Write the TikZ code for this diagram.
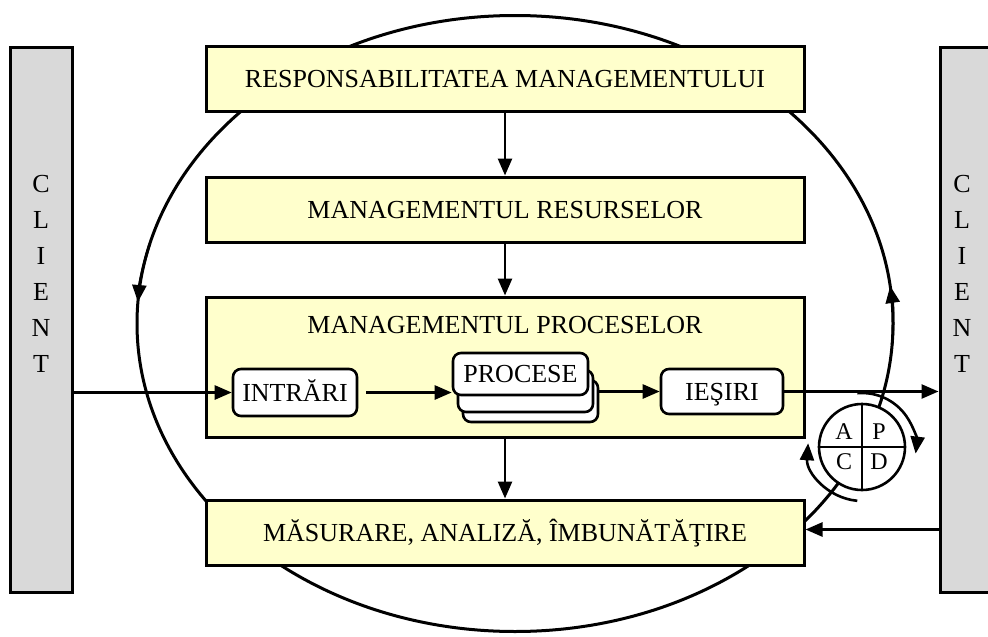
\documentclass[tikz,border=0pt]{standalone}
\usepackage{fontspec}
\setmainfont{Liberation Serif}
\usetikzlibrary{positioning,arrows.meta}
\definecolor{boxyellow}{RGB}{255,255,204}
\definecolor{clientgray}{RGB}{217,217,217}

\begin{document}
\begin{tikzpicture}[
    x=1pt, y=1pt,
    font=\fontsize{26pt}{36pt}\selectfont,
    box/.style={rectangle, draw=black, line width=3pt, fill=boxyellow, minimum width=598pt, minimum height=65pt, inner sep=0pt, text height=17pt, text depth=0pt, align=center},
    stage/.style={rectangle, rounded corners=8pt, draw=black, line width=2.6pt, fill=white, minimum width=135pt, minimum height=42pt, inner sep=0pt, text height=17pt, text depth=0pt},
    client/.style={rectangle, draw=black, line width=3pt, fill=clientgray, minimum width=62pt, minimum height=545pt},
    arrow/.style={-{Triangle[length=17pt,width=14pt]}, line width=2.6pt},
    ring/.style={line width=3pt},
    node distance=63pt
]
\clip (0,0) rectangle (988,-637);

% Improvement cycle round the system
\coordinate (ringc) at (515,-323.5);
\draw[ring] (ringc) ellipse [x radius=378, y radius=308];
\draw[ring, arrow] ([shift={(165:378 and 308)}]ringc) arc[start angle=165, end angle=176, x radius=378, y radius=308];
\draw[ring, arrow] ([shift={(-4:378 and 308)}]ringc) arc[start angle=-4, end angle=7, x radius=378, y radius=308];

% Clients on both sides
\node[client] (clientL) at (41,-319.5) {};
\node[client] (clientR) at (971,-319.5) {};
\node[align=center] (clientLtxt) at (41,-274) {C\\L\\I\\E\\N\\T};
\node[align=center] (clientRtxt) at (962,-274) {C\\L\\I\\E\\N\\T};

% Main blocks
\node[box] (resp) at (505,-78.5) {RESPONSABILITATEA MANAGEMENTULUI};
\node[box, below=of resp] (res) {MANAGEMENTUL RESURSELOR};
\node[box, minimum height=140pt, below=52pt of res] (proc) {};
\node (proctitle) at ([yshift=-30pt]proc.north) {MANAGEMENTUL PROCESELOR};
\node[box, below=60pt of proc] (mas) {MĂSURARE, ANALIZĂ, ÎMBUNĂTĂŢIRE};

% Inside the process block
\node[stage, minimum width=124pt, minimum height=47pt] (intrari) at (295,-392.5) {INTRĂRI};
\coordinate (stackc) at (520.5,-374);
\node[stage] (stack3) at ([shift={(10,-27)}]stackc) {};
\node[stage] (stack2) at ([shift={(5,-17)}]stackc) {};
\node[stage] (procese) at (stackc) {PROCESE};
\node[stage, minimum width=122pt, minimum height=45pt] (iesiri) at (722,-391.5) {IEŞIRI};

% Arrows between blocks
\draw[arrow] (resp) -- (res);
\draw[arrow] (res) -- (proc);
\draw[arrow] (proc) -- (mas);

% Flow from client to client
\draw[arrow] (intrari -| clientL.east) -- (intrari.west);
\draw[arrow] ([xshift=8pt]intrari.east) -- (intrari.east -| procese.west);
\draw[arrow] (stack3.east |- iesiri) -- (iesiri.west);
\draw[arrow] (iesiri.east) -- (iesiri -| clientR.west);
\draw[arrow] ([yshift=3pt]mas.east -| clientR.west) -- ([yshift=3pt]mas.east);

% PDCA wheel
\node[circle, draw=black, line width=2.6pt, fill=white, minimum size=86pt, inner sep=0pt] (pdca) at (862,-447) {};
\draw[line width=2.6pt] (pdca.north) -- (pdca.south);
\draw[line width=2.6pt] (pdca.west) -- (pdca.east);
\node[font=\fontsize{24pt}{24pt}\selectfont] (act) at ([shift={(-18,15)}]pdca.center) {A};
\node[font=\fontsize{24pt}{24pt}\selectfont] (plan) at ([shift={(17,15)}]pdca.center) {P};
\node[font=\fontsize{24pt}{24pt}\selectfont] (check) at ([shift={(-18,-15)}]pdca.center) {C};
\node[font=\fontsize{24pt}{24pt}\selectfont] (do) at ([shift={(17,-15)}]pdca.center) {D};
\draw[arrow] ([shift={(95:54)}]pdca.center) arc[start angle=95, end angle=-7, radius=54];
\draw[arrow] ([shift={(-95:54)}]pdca.center) arc[start angle=-95, end angle=-184, radius=54];

\end{tikzpicture}
\end{document}
